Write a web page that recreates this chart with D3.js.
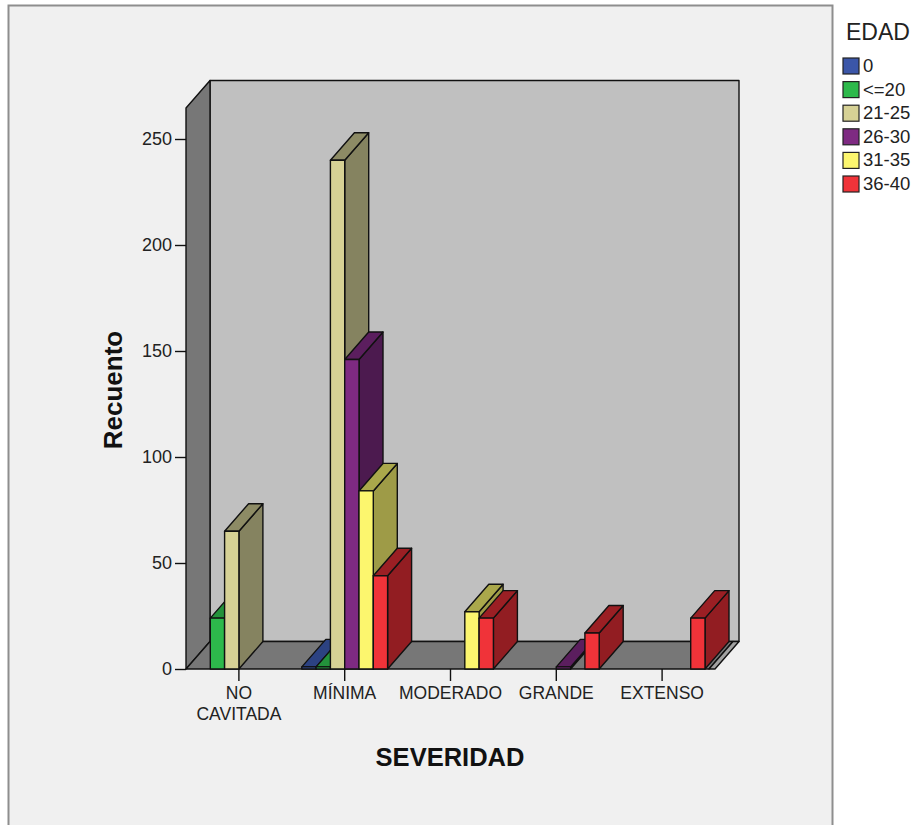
<!DOCTYPE html>
<html>
<head>
<meta charset="utf-8">
<script src="https://cdn.jsdelivr.net/npm/d3@7"></script>
<style>
  html, body { margin: 0; padding: 0; background: #ffffff; }
  svg { display: block; font-family: "Liberation Sans", Arial, sans-serif; }
</style>
</head>
<body>
<svg id="chart" width="920" height="825"></svg>
<script>
// Caries severity by age group (counts)
const categories = ["NO CAVITADA", "MÍNIMA", "MODERADO", "GRANDE", "EXTENSO"];
const series = ["0", "<=20", "21-25", "26-30", "31-35", "36-40"];
// one array per age group, indexed by category
const v0    = [0, 1, 0, 0, 0];
const vLe20 = [24, 1, 0, 0, 0];
const v2125 = [65, 240, 0, 0, 0];
const v2630 = [0, 146, 0, 1, 0];
const v3135 = [0, 84, 27, 0, 0];
const v3640 = [0, 44, 24, 17, 24];
const yTicks = [0, 50, 100, 150, 200, 250];

const seriesValues = [v0, vLe20, v2125, v2630, v3135, v3640];
const frontColors = ["#3b56a8", "#2db94b", "#d6d195", "#7e2a82", "#fcf66e", "#f03339"];
const topColors   = ["#2c4282", "#23923b", "#8d8b65", "#5b1e5e", "#aaa84b", "#9b1f24"];
const sideColors  = ["#213265", "#1d7a31", "#858360", "#4c1a4f", "#9e9b47", "#921d22"];

const svg = d3.select("#chart");

// outer frame
svg.append("rect")
  .attr("x", 8.5).attr("y", 5.5).attr("width", 824).attr("height", 830)
  .attr("fill", "#f0f0f0").attr("stroke", "#8e8e8e").attr("stroke-width", 2);

// scales
const X0 = 186, X1 = 715, DX = 24, DY = -27.5;
const x0 = d3.scaleBand().domain(categories).range([X0, X1]).padding(0);
const x1 = d3.scaleBand().domain(series).range([10, x0.bandwidth() - 10]).padding(0);
const y = d3.scaleLinear().domain([0, 250]).range([669, 139]);
const Y0 = y(0);
const wallTop = 108;

const line = d3.line();
const poly = (pts, fill) => svg.append("path")
  .attr("d", line(pts) + "Z")
  .attr("fill", fill).attr("stroke", "#111").attr("stroke-width", 1.4)
  .attr("stroke-linejoin", "round");

// back wall
poly([[X0 + DX, wallTop + DY], [X1 + DX, wallTop + DY], [X1 + DX, Y0 + DY], [X0 + DX, Y0 + DY]], "#c0c0c0");
// left wall
poly([[X0, Y0], [X0, wallTop], [X0 + DX, wallTop + DY], [X0 + DX, Y0 + DY]], "#777777");
// floor and its right edge strip
poly([[X0, Y0], [X1 - 6, Y0], [X1 - 6 + DX, Y0 + DY], [X0 + DX, Y0 + DY]], "#777777");
poly([[X1 - 6, Y0], [X1, Y0], [X1 + DX, Y0 + DY], [X1 - 6 + DX, Y0 + DY]], "#a2a2a2");

// bars: left to right so each front face covers the neighbour's side
categories.forEach((c, ci) => {
  series.forEach((s, si) => {
    const val = seriesValues[si][ci];
    if (!val) return;
    const x = x0(c) + x1(s);
    const w = x1.bandwidth();
    const yt = y(val);
    poly([[x + w, yt], [x + w + DX, yt + DY], [x + w + DX, Y0 + DY], [x + w, Y0]], sideColors[si]);
    poly([[x, yt], [x + w, yt], [x + w + DX, yt + DY], [x + DX, yt + DY]], topColors[si]);
    poly([[x, yt], [x + w, yt], [x + w, Y0], [x, Y0]], frontColors[si]);
  });
});

// y axis
const yAxis = svg.append("g")
  .attr("transform", `translate(${X0},0)`)
  .call(d3.axisLeft(y).tickValues(yTicks).tickSize(11).tickPadding(3).tickSizeOuter(0));
yAxis.select(".domain").remove();
yAxis.selectAll(".tick line").attr("stroke", "#111").attr("stroke-width", 1.4);
yAxis.selectAll(".tick text").attr("fill", "#222").attr("font-size", 18)
  .attr("font-family", "Liberation Sans, Arial, sans-serif");

// x axis
const xAxis = svg.append("g")
  .attr("transform", `translate(0,${Y0})`)
  .call(d3.axisBottom(x0).tickSize(12).tickSizeOuter(0));
xAxis.select(".domain").remove();
xAxis.selectAll(".tick line").attr("stroke", "#111").attr("stroke-width", 1.4);
xAxis.selectAll(".tick text").each(function (d) {
  const t = d3.select(this).text("")
    .attr("fill", "#222").attr("font-size", 17.5)
    .attr("font-family", "Liberation Sans, Arial, sans-serif")
    .attr("y", 30).attr("dy", 0);
  const parts = d === "NO CAVITADA" ? ["NO", "CAVITADA"] : [d];
  parts.forEach((p, i) => t.append("tspan").attr("x", 0).attr("dy", i === 0 ? 0 : 21).text(p));
});

// axis titles
svg.append("text")
  .attr("x", 450).attr("y", 766).attr("text-anchor", "middle")
  .attr("font-size", 25.5).attr("font-weight", "bold").attr("fill", "#111")
  .text("SEVERIDAD");
svg.append("text")
  .attr("transform", "translate(122,390) rotate(-90)").attr("text-anchor", "middle")
  .attr("font-size", 26).attr("font-weight", "bold").attr("fill", "#111")
  .text("Recuento");

// legend
const legend = svg.append("g");
legend.append("text").attr("x", 846).attr("y", 40)
  .attr("font-size", 23).attr("fill", "#222").text("EDAD");
series.forEach((s, i) => {
  const gy = 58 + i * 23.6;
  legend.append("rect").attr("x", 843).attr("y", gy).attr("width", 16).attr("height", 16)
    .attr("fill", frontColors[i]).attr("stroke", "#222").attr("stroke-width", 1.2);
  legend.append("text").attr("x", 863).attr("y", gy + 14)
    .attr("font-size", 18.5).attr("fill", "#222").text(s);
});
</script>
</body>
</html>
